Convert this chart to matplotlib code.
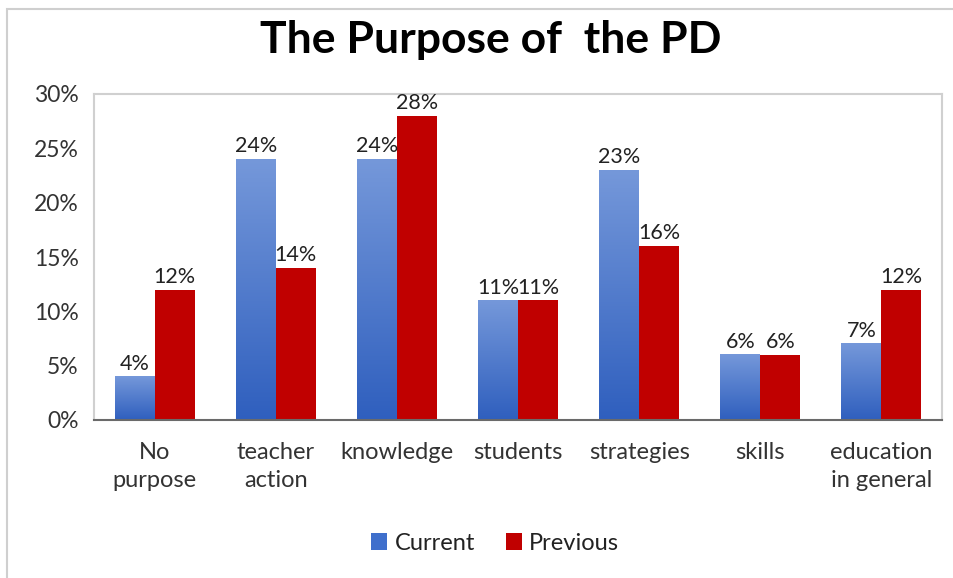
import numpy as np
import matplotlib.pyplot as plt
from matplotlib.patches import Rectangle
from matplotlib.colors import LinearSegmentedColormap

plt.rcParams['font.family'] = ['Lato', 'DejaVu Sans']

# Dados
categorias = ['No\npurpose', 'teacher\naction', 'knowledge', 'students',
              'strategies', 'skills', 'education\nin general']
atual = [4, 24, 24, 11, 23, 6, 7]
anterior = [12, 14, 28, 11, 16, 6, 12]
yticks = [0, 5, 10, 15, 20, 25, 30]

fig = plt.figure(figsize=(9.54, 5.78), dpi=100)
ax = fig.add_axes([94 / 954, 1 - 420 / 578, 848 / 954, 326 / 578])

x = np.arange(len(categorias))
w = 0.33

b1 = ax.bar(x - w / 2, atual, w, color='#3f6fcc', label='Current', zorder=2)
b2 = ax.bar(x + w / 2, anterior, w, color='#c00000', label='Previous', zorder=2)

# gradiente nas barras azuis
cmap = LinearSegmentedColormap.from_list('azul', ['#2f5fbe', '#7598da'])
grad = np.linspace(0, 1, 256).reshape(-1, 1)
for bar in b1:
    x0, h, bw = bar.get_x(), bar.get_height(), bar.get_width()
    ax.imshow(grad, cmap=cmap, aspect='auto', origin='lower',
              extent=[x0, x0 + bw, 0, h], zorder=2.5)

# rótulos de valor
for bars, vals in [(b1, atual), (b2, anterior)]:
    for bar, v in zip(bars, vals):
        ax.text(bar.get_x() + bar.get_width() / 2, v + 0.25, f'{v}%',
                ha='center', va='bottom', fontsize=15.5, color='#222222')

ax.set_xlim(-0.5, len(categorias) - 0.5)
ax.set_ylim(0, 30)
ax.set_yticks(yticks)
ax.set_yticklabels([f'{t}%' for t in yticks], fontsize=16.5, color='#333333')
ax.set_xticks(x)
ax.set_xticklabels(categorias, fontsize=17, color='#333333', linespacing=1.4)
ax.tick_params(axis='y', length=0, pad=11)
ax.tick_params(axis='x', length=0, pad=16)

for s in ['top', 'right', 'left']:
    ax.spines[s].set_color('#d0d0d0')
    ax.spines[s].set_linewidth(1.5)
ax.spines['bottom'].set_color('#6a6a6a')
ax.spines['bottom'].set_linewidth(1.5)

fig.text(491 / 954, 1 - 40 / 578, 'The Purpose of  the PD', ha='center', va='center',
         fontsize=32, fontweight='bold', color='black')

# borda externa
fig.patches.append(Rectangle((7 / 954, -0.1), 1.2, 1 - 9 / 578 + 0.1,
                             transform=fig.transFigure, fill=False,
                             edgecolor='#cfcfcf', linewidth=1.5))

leg = fig.legend(handles=[b1, b2], loc='center', bbox_to_anchor=(495 / 954, 1 - 543 / 578),
                 ncol=2, frameon=False, fontsize=17, handlelength=0.7,
                 handleheight=0.7, columnspacing=1.3, handletextpad=0.3)
for t in leg.get_texts():
    t.set_color('#222222')

plt.savefig('out.png', dpi=100)
